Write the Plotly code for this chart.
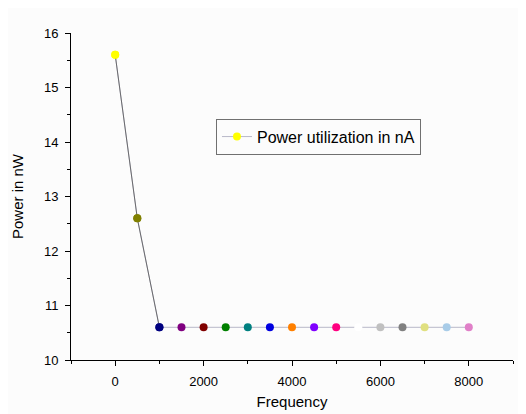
import plotly.graph_objects as go

# data
freq = [0, 500, 1000, 1500, 2000, 2500, 3000, 3500, 4000, 4500, 5000,
        5500, 6000, 6500, 7000, 7500, 8000]
power = [15.6, 12.6, 10.6, 10.6, 10.6, 10.6, 10.6, 10.6, 10.6, 10.6, 10.6,
         10.6, 10.6, 10.6, 10.6, 10.6, 10.6]
point_colors = ["#ffff00", "#808000", "#000080", "#800080", "#800000", "#008000",
                "#008080", "#0000e0", "#ff8000", "#8000ff", "#ff0080", "#ffffff",
                "#c0c0c0", "#808080", "#e0e080", "#a8cce8", "#e080c8"]

font = "Liberation Sans, Arial, sans-serif"

fig = go.Figure()
fig.add_trace(go.Scatter(
    x=freq, y=power, mode="lines+markers", name="Power utilization in nA",
    line=dict(color="#b8b8c8", width=1),
    marker=dict(color=point_colors, size=8, line=dict(width=0)),
))
# darker line on the falling part
fig.add_trace(go.Scatter(
    x=freq[:3], y=power[:3], mode="lines", showlegend=False,
    line=dict(color="#555555", width=0.8),
))
fig.add_trace(go.Scatter(
    x=freq[:3], y=power[:3], mode="markers", showlegend=False,
    marker=dict(color=point_colors[:3], size=8, line=dict(width=0)),
))

axis_common = dict(
    showgrid=False, zeroline=False, showline=True, linecolor="black", linewidth=1,
    ticks="outside", ticklen=5, tickcolor="black", automargin=False,
    ticklabelstandoff=4,
    tickfont=dict(family=font, size=13, color="black"),
    minor=dict(ticks="outside", ticklen=3, tickcolor="black"),
)
fig.update_xaxes(axis_common, range=[-1000, 9000], tick0=0, dtick=2000,
                 minor_dtick=1000,
                 title=dict(text="Frequency", font=dict(family=font, size=15, color="black"),
                            standoff=8))
fig.update_yaxes(axis_common, range=[10, 16], dtick=1, minor_dtick=0.5,
                 title=dict(text="Power in nW", font=dict(family=font, size=15, color="black"),
                            standoff=16))

# page body adds ~8px offset, margins compensate
fig.update_layout(
    width=526, height=414,
    margin=dict(l=63, r=21, t=25, b=62),
    plot_bgcolor="#fcfcfc", paper_bgcolor="#fcfcfc",
    legend=dict(x=0.328, y=0.738, xanchor="left", yanchor="top",
                bgcolor="rgba(0,0,0,0)", bordercolor="#707070", borderwidth=1,
                font=dict(family=font, size=16, color="black")),
)

fig.write_html("out.html")
